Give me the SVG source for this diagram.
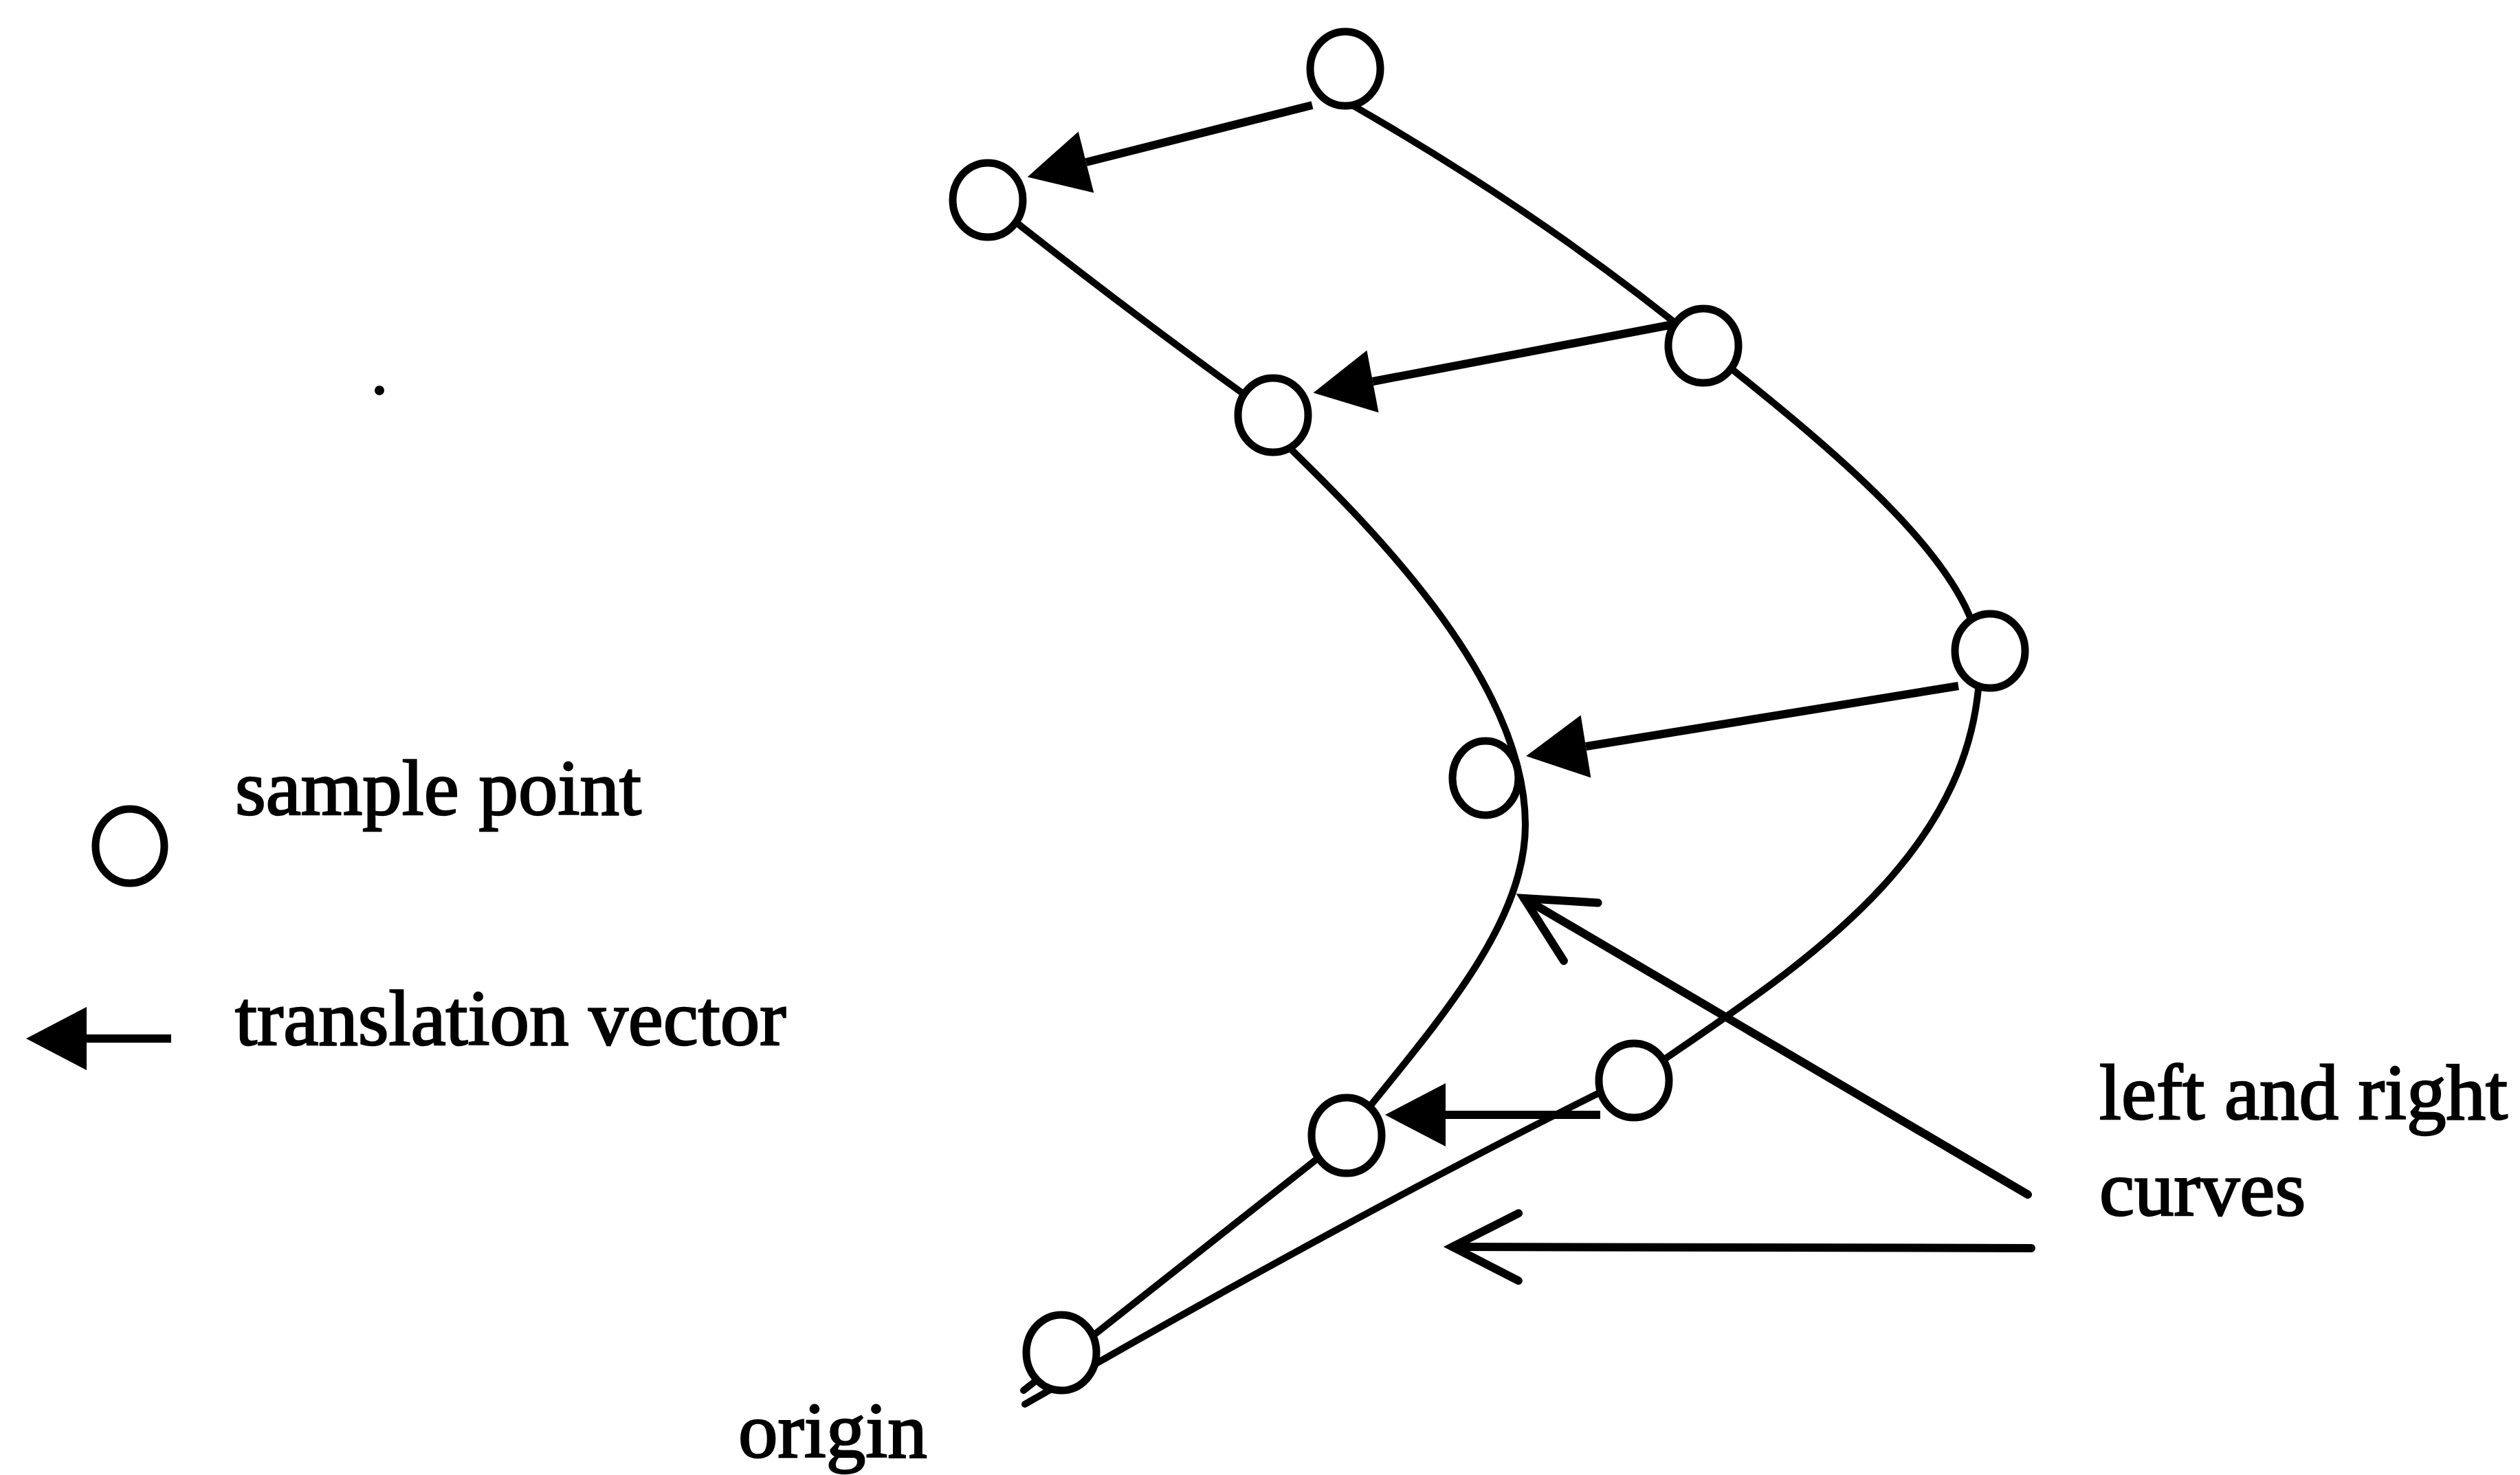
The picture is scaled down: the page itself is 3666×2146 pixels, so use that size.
<svg xmlns="http://www.w3.org/2000/svg" width="3666" height="2146" viewBox="0 0 3666 2146">
  <style>
    .curve { fill: none; stroke: #000; stroke-width: 10; stroke-linecap: round; }
    .vec { fill: none; stroke: #000; stroke-width: 12; }
    .ptr { fill: none; stroke: #000; stroke-width: 12; stroke-linecap: round; }
    .pt { fill: #fff; stroke: #000; stroke-width: 11; }
    .lbl { font-family: "Liberation Serif", "Times New Roman", serif; font-size: 115px; fill: #000; stroke: #000; stroke-width: 2.5; }
  </style>
  <defs>
    <marker id="solid" markerUnits="userSpaceOnUse" viewBox="-2 -50 100 100" markerWidth="100" markerHeight="100" refX="0" refY="0" orient="auto">
      <path d="M0,-46 L88,0 L0,46 Z" fill="#000"/>
    </marker>
    <marker id="open" markerUnits="userSpaceOnUse" viewBox="-110 -60 125 120" markerWidth="125" markerHeight="120" refX="0" refY="0" orient="auto">
      <path d="M-96,-49 L0,0 L-96,49" fill="none" stroke="#000" stroke-width="12" stroke-linecap="round" stroke-linejoin="miter"/>
    </marker>
  </defs>
  <rect width="3666" height="2146" fill="#fff"/>

  <g id="connectors">
    <!-- left curve -->
    <path class="curve" d="M1437,291 Q1650,460 1852,604 M1852,628 C1972,745 2219,980 2219,1200 C2219,1350 2082,1497 1958,1653 L1489,2023"/>
    <!-- right curve -->
    <path class="curve" d="M1962,150 Q2250,315 2478,503 C2593,599 2880,810 2880,960 C2880,1260 2582,1427 2377,1572"/>
    <path class="curve" d="M2377,1565 Q2000,1750 1491,2043"/>
    <!-- translation vectors -->
    <line class="vec" x1="1909" y1="153" x2="1580" y2="236" marker-end="url(#solid)"/>
    <line class="vec" x1="2434" y1="472" x2="1997" y2="555" marker-end="url(#solid)"/>
    <line class="vec" x1="2849" y1="998" x2="2307" y2="1086" marker-end="url(#solid)"/>
    <line class="vec" x1="2328" y1="1622" x2="2103" y2="1622" marker-end="url(#solid)"/>
    <!-- pointers to curves -->
    <line class="ptr" x1="2950" y1="1738" x2="2217" y2="1307" marker-end="url(#open)"/>
    <line class="ptr" x1="2955" y1="1816" x2="2113" y2="1814" marker-end="url(#open)"/>
  </g>

  <g id="sample-points">
    <ellipse id="pA" class="pt" cx="1957" cy="100" rx="51" ry="54"/>
    <ellipse id="pB" class="pt" cx="1437" cy="291" rx="51" ry="54"/>
    <ellipse id="pC" class="pt" cx="2478" cy="503" rx="51" ry="54"/>
    <ellipse id="pD" class="pt" cx="1852" cy="604" rx="51" ry="54"/>
    <ellipse id="pE" class="pt" cx="2895" cy="947" rx="51" ry="54"/>
    <ellipse id="pF" class="pt" cx="2161" cy="1132" rx="48" ry="54"/>
    <ellipse id="pG" class="pt" cx="2377" cy="1572" rx="51" ry="54"/>
    <ellipse id="pH" class="pt" cx="1959" cy="1652" rx="51" ry="55"/>
    <ellipse id="pI" class="pt" cx="1544" cy="1968" rx="51" ry="55"/>
  </g>

  <g id="legend">
    <ellipse id="legend-point" class="pt" cx="189" cy="1231" rx="50" ry="54"/>
    <text class="lbl" x="342" y="1185">sample point</text>
    <line id="legend-vector" class="vec" x1="249" y1="1511" x2="126" y2="1511" marker-end="url(#solid)"/>
    <text class="lbl" x="342" y="1520">translation vector</text>
  </g>

  <g id="labels">
    <text class="lbl" x="3054" y="1628">left and right</text>
    <text class="lbl" x="3054" y="1768">curves</text>
    <text class="lbl" x="1074" y="2120">origin</text>
  </g>

  <circle id="stray-dot" cx="552" cy="568" r="7" fill="#000"/>
</svg>
